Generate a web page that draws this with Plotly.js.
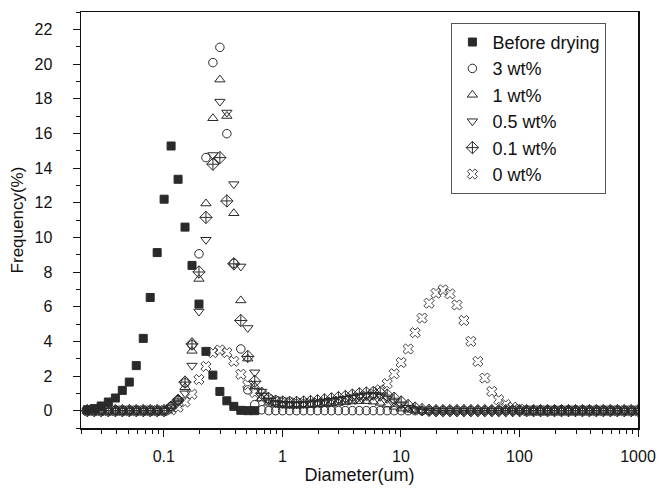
<!DOCTYPE html>
<html>
<head>
<meta charset="utf-8">
<script src="https://cdn.plot.ly/plotly-3.0.1.min.js"></script>
<style>
html,body{margin:0;padding:0;background:#fff;}
#chart{width:661px;height:489px;}
</style>
</head>
<body>
<div id="chart"></div>
<script>
// Particle-size bins (um)
const diameters = [
  0.0226, 0.0259, 0.0296, 0.034, 0.039, 0.0446, 0.0511, 0.0585, 0.067, 0.0767,
  0.0878, 0.1005, 0.1151, 0.1318, 0.1509, 0.1728, 0.1978, 0.2265, 0.2593, 0.297,
  0.34, 0.3893, 0.4458, 0.5104, 0.5845, 0.6692, 0.7663, 0.8774, 1.0047, 1.1505,
  1.3174, 1.5085, 1.7272, 1.9777, 2.2645, 2.5929, 2.969, 3.3995, 3.8926, 4.4571,
  5.1034, 5.8435, 6.691, 7.6613, 8.7724, 10.0446, 11.5013, 13.1692, 15.079, 17.2658,
  19.7697, 22.6368, 25.9196, 29.6785, 33.9827, 38.911, 44.554, 51.0153, 58.4136, 66.885,
  76.5848, 87.6912, 100.408, 114.97, 131.643, 150.734, 172.594, 197.624, 226.284, 259.1,
  296.676, 339.701, 388.965, 445.373, 509.962, 583.919, 668.602, 765.564, 876.589, 1003.71
];

const beforeDrying = [
  0.05, 0.12, 0.27, 0.5, 0.73, 1.17, 1.65, 2.6, 4.17, 6.53,
  9.12, 12.2, 15.27, 13.35, 10.59, 8.38, 6.15, 3.42, 2.05, 1.11,
  0.57, 0.25, 0.02, 0, 0
];

const wt3 = [
  0, 0, 0, 0, 0, 0, 0, 0, 0, 0,
  0, 0, 0.25, 0.6, 1.6, 3.8, 9.05, 14.6, 20.08, 20.96,
  15.98, 8.5, 3.56, 1.2, 0.35, 0.05, 0, 0, 0, 0,
  0, 0, 0, 0, 0, 0, 0, 0, 0, 0,
  0, 0, 0, 0, 0, 0, 0, 0, 0, 0,
  0, 0, 0, 0, 0, 0, 0, 0, 0, 0,
  0, 0, 0, 0, 0, 0, 0, 0, 0, 0,
  0, 0, 0, 0, 0, 0, 0, 0, 0, 0
];

const wt1 = [
  0, 0, 0, 0, 0, 0, 0, 0, 0, 0,
  0, 0, 0.25, 0.65, 1.35, 3.45, 7.6, 11.95, 16.87, 19.1,
  17.0, 11.39, 6.36, 3.0, 1.4, 0.7, 0.45, 0.35, 0.3, 0.28,
  0.28, 0.3, 0.32, 0.35, 0.38, 0.42, 0.46, 0.5, 0.53, 0.55,
  0.55, 0.52, 0.45, 0.35, 0.22, 0.12, 0.05, 0, 0, 0,
  0, 0, 0, 0, 0, 0, 0, 0, 0, 0,
  0, 0, 0, 0, 0, 0, 0, 0, 0, 0,
  0, 0, 0, 0, 0, 0, 0, 0, 0, 0
];

const wt05 = [
  0, 0, 0, 0, 0, 0, 0, 0, 0, 0,
  0, 0, 0.2, 0.55, 1.0, 2.6, 5.72, 9.86, 14.75, 17.83,
  17.2, 13.07, 8.32, 4.77, 2.21, 1.1, 0.6, 0.45, 0.4, 0.38,
  0.38, 0.4, 0.43, 0.47, 0.52, 0.57, 0.62, 0.68, 0.74, 0.8,
  0.84, 0.85, 0.8, 0.68, 0.5, 0.32, 0.18, 0.08, 0.02, 0,
  0, 0, 0, 0, 0, 0, 0, 0, 0, 0,
  0, 0, 0, 0, 0, 0, 0, 0, 0, 0,
  0, 0, 0, 0, 0, 0, 0, 0, 0, 0
];

const wt01 = [
  0, 0, 0, 0, 0, 0, 0, 0, 0, 0,
  0, 0, 0.2, 0.6, 1.65, 3.85, 8.0, 11.15, 14.22, 14.6,
  12.1, 8.47, 5.2, 3.13, 1.69, 1.0, 0.7, 0.55, 0.5, 0.48,
  0.48, 0.5, 0.53, 0.57, 0.62, 0.68, 0.75, 0.82, 0.9, 0.97,
  1.02, 1.05, 1.02, 0.9, 0.72, 0.5, 0.3, 0.15, 0.06, 0.02,
  0, 0, 0, 0, 0, 0, 0, 0, 0, 0,
  0, 0, 0, 0, 0, 0, 0, 0, 0, 0,
  0, 0, 0, 0, 0, 0, 0, 0, 0, 0
];

const wt0 = [
  0, 0, 0, 0, 0, 0, 0, 0, 0, 0,
  0, 0, 0.05, 0.2, 0.5, 0.95, 1.8, 2.55, 3.35, 3.5,
  3.35, 2.85, 2.1, 1.5, 1.05, 0.8, 0.65, 0.55, 0.5, 0.46,
  0.43, 0.42, 0.42, 0.44, 0.47, 0.5, 0.55, 0.6, 0.66, 0.74,
  0.83, 0.95, 1.2, 1.56, 2.13, 2.78, 3.56, 4.5, 5.34, 6.2,
  6.78, 6.97, 6.74, 6.1, 5.2, 4.0, 2.84, 1.88, 1.11, 0.63,
  0.35, 0.2, 0.08, 0, 0, 0, 0, 0, 0, 0,
  0, 0, 0, 0, 0, 0, 0, 0, 0, 0
];

const seriesNames = ['Before drying', '3 wt%', '1 wt%', '0.5 wt%', '0.1 wt%', '0 wt%'];
const xTickVals = [0.1, 1, 10, 100, 1000];
const xTickText = ['0.1', '1', '10', '100', '1000'];

const FONT = 'Liberation Sans, Arial, sans-serif';
const INK = '#111';
const MK = '#2a2a2a';

function mk(y, name, symbol, size, lw) {
  const n = y.length;
  return {
    type: 'scatter', mode: 'markers', name: name,
    x: diameters.slice(0, n), y: y,
    marker: {symbol: symbol, size: size, color: MK, line: {color: MK, width: lw || 1}},
    cliponaxis: true
  };
}

const traces = [
  mk(beforeDrying, seriesNames[0], 'square', 8),
  mk(wt3, seriesNames[1], 'circle-open', 8.5),
  mk(wt1, seriesNames[2], 'triangle-up-open', 9),
  mk(wt05, seriesNames[3], 'triangle-down-open', 9),
  mk(wt01, seriesNames[4], 'diamond-cross-open', 9.5),
  mk(wt0, seriesNames[5], 'x-open', 9, 0.9)
];

const layout = {
  width: 661, height: 489,
  margin: {l: 81, r: 23, t: 12, b: 61},
  paper_bgcolor: '#fff', plot_bgcolor: '#fff',
  font: {family: FONT, size: 16, color: INK},
  showlegend: true,
  legend: {
    x: 0.665, y: 0.974, xanchor: 'left', yanchor: 'top',
    bordercolor: '#555', borderwidth: 1, bgcolor: '#fff',
    font: {family: FONT, size: 18, color: INK},
    itemsizing: 'trace',
    entrywidth: 130, entrywidthmode: 'pixels'
  },
  xaxis: {
    type: 'log',
    range: [Math.log10(0.02), 3],
    tickvals: xTickVals, ticktext: xTickText,
    ticks: 'outside', ticklen: 7, tickwidth: 1, tickcolor: INK,
    ticklabelstandoff: 6,
    minor: {ticks: 'outside', ticklen: 4, tickwidth: 1, tickcolor: INK, dtick: 'D1', showgrid: false},
    showline: true, linecolor: INK, linewidth: 1.5, mirror: true,
    showgrid: false, zeroline: false,
    tickfont: {family: FONT, size: 16, color: INK},
    title: {text: 'Diameter(um)', font: {family: FONT, size: 18, color: INK}, standoff: 4}
  },
  yaxis: {
    range: [-1, 23],
    tick0: 0, dtick: 2,
    ticks: 'outside', ticklen: 7, tickwidth: 1, tickcolor: INK,
    ticklabelstandoff: 17,
    minor: {ticks: 'outside', ticklen: 4, tickwidth: 1, tickcolor: INK, dtick: 1, showgrid: false},
    showline: true, linecolor: INK, linewidth: 1.5, mirror: true,
    showgrid: false, zeroline: false,
    tickfont: {family: FONT, size: 16, color: INK},
    title: {text: 'Frequency(%)', font: {family: FONT, size: 17, color: INK}, standoff: 6}
  }
};

Plotly.newPlot('chart', traces, layout, {staticPlot: true, displayModeBar: false});
</script>
</body>
</html>
